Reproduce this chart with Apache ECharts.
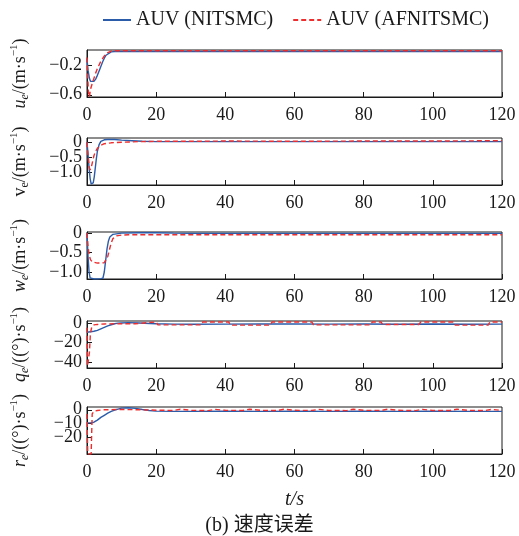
<!DOCTYPE html>
<html>
<head>
<meta charset="utf-8">
<script src="https://cdn.jsdelivr.net/npm/echarts@6/dist/echarts.min.js"></script>
<style>
  html, body { margin: 0; padding: 0; background: #fff; }
  #main { width: 519px; height: 536px; }
</style>
</head>
<body>
<div id="main"></div>
<script>
// u_e
var uTimeBlue = [0, 0.3, 0.7, 1.0, 1.5, 2.0, 2.5, 3.0, 3.5, 4.0, 4.5, 5.0, 5.5, 6.0, 7.0, 8.0, 10, 20, 40, 60, 80, 100, 120];
var uBlue = [-0.12, -0.27, -0.38, -0.42, -0.43, -0.42, -0.39, -0.34, -0.28, -0.22, -0.16, -0.11, -0.07, -0.045, -0.025, -0.02, -0.02, -0.02, -0.02, -0.02, -0.02, -0.02, -0.02];
var uTimeRed = [0, 0.2, 0.4, 0.6, 0.8, 1.0, 1.5, 2.0, 2.5, 3.0, 3.5, 4.0, 5.0, 6.0, 7.0, 8.0, 10, 20, 40, 60, 80, 100, 120];
var uRed = [-0.1, -0.35, -0.55, -0.63, -0.6, -0.53, -0.45, -0.38, -0.31, -0.25, -0.2, -0.15, -0.08, -0.035, -0.015, -0.01, -0.01, -0.01, -0.01, -0.01, -0.01, -0.01, -0.01];

// v_e
var vTimeBlue = [0, 0.3, 0.6, 0.9, 1.2, 1.5, 1.8, 2.1, 2.4, 2.7, 3.0, 3.5, 4.0, 5, 6, 8, 10, 13, 16, 20, 30, 40, 60, 80, 100, 120];
var vBlue = [0, -0.4, -0.85, -1.2, -1.38, -1.42, -1.35, -1.15, -0.85, -0.55, -0.3, -0.08, 0.03, 0.08, 0.09, 0.09, 0.07, 0.05, 0.03, 0.02, 0.02, 0.02, 0.02, 0.02, 0.02, 0.02];
var vTimeRed = [0, 0.3, 0.6, 0.9, 1.2, 1.5, 2.0, 2.5, 3.0, 4.0, 5.0, 7.0, 10, 15, 20, 30, 40, 60, 80, 100, 120];
var vRed = [0, -0.45, -0.8, -0.92, -0.85, -0.7, -0.45, -0.3, -0.2, -0.1, -0.05, -0.02, 0.0, 0.02, 0.03, 0.03, 0.04, 0.03, 0.04, 0.04, 0.05];

// w_e
var wTimeBlue = [0, 0.3, 0.6, 0.9, 1.2, 2, 3, 4, 4.6, 5.0, 5.4, 5.8, 6.2, 6.6, 7.0, 7.5, 8, 10, 15, 20, 25, 30, 40, 60, 80, 100, 120];
var wBlue = [0, -0.6, -1.0, -1.15, -1.18, -1.18, -1.18, -1.17, -1.16, -1.0, -0.7, -0.4, -0.2, -0.1, -0.05, -0.03, -0.02, 0.0, 0.01, 0.01, 0.0, -0.005, -0.005, -0.005, -0.005, -0.005, -0.005];
var wTimeRed = [0, 0.3, 0.6, 1, 1.5, 2, 3, 4, 5, 5.5, 6, 6.5, 7, 7.5, 8.5, 10, 12, 20, 40, 60, 80, 100, 120];
var wRed = [0, -0.35, -0.55, -0.68, -0.74, -0.76, -0.77, -0.77, -0.76, -0.72, -0.6, -0.42, -0.25, -0.14, -0.07, -0.05, -0.04, -0.04, -0.04, -0.04, -0.04, -0.04, -0.04];

// q_e
var qTimeBlue = [0, 1, 2, 3, 4, 5, 6, 7, 8, 9, 10, 12, 15, 20, 25, 30, 40, 50, 60, 70, 80, 90, 100, 110, 120];
var qBlue = [-9.5, -9, -8.5, -7.5, -6, -4.5, -3, -1.8, -0.8, -0.2, 0, 0.3, 0, -0.8, -1.2, -1.3, -1.2, -1.0, -1.0, -1.2, -1.0, -1.3, -1.1, -1.3, -1.2];
var qTimeRed = [0, 0.15, 0.4, 0.7, 1.0, 1.4, 2, 3, 5, 10, 14, 14.5, 20, 20.5, 33, 33.5, 41, 41.5, 53, 53.5, 65, 65.5, 82, 82.5, 85, 85.5, 96, 96.5, 106, 106.5, 116, 116.5, 120];
var qRed = [-5, -44, -46, -30, -10, -4, -2, -1.5, -1, -0.8, -0.8, 1, 1, -2, -2, 1, 1, -2.2, -2.2, 1, 1, -2, -2, 1, 1, -1.5, -1.5, 1, 1, -2.2, -2.2, 1, 1];

// r_e
var rTimeBlue = [0, 1, 2, 3, 4, 5, 6, 7, 8, 9, 10, 12, 14, 16, 18, 20, 25, 30, 40, 50, 60, 70, 80, 90, 100, 110, 120];
var rBlue = [-9.5, -9.5, -9, -7.5, -5.5, -4, -2.5, -1.2, -0.2, 0.5, 1.2, 1.5, 1, 0.2, -0.5, -1, -1.2, -1.2, -1.1, -1.2, -1.1, -1.2, -1.1, -1.2, -1.1, -1.2, -1.2];
var rTimeRed = [0, 0.2, 0.4, 1.2, 1.5, 2, 3, 5, 10, 15, 20, 25, 27, 30, 35, 37, 40, 45, 47, 50, 55, 57, 60, 65, 67, 70, 75, 77, 80, 85, 87, 90, 95, 97, 100, 105, 107, 110, 115, 117, 120];
var rRed = [-3, -30, -32, -32, -3, -1, -0.5, 0, 0.2, 0, -0.3, -0.5, 0.4, -0.4, -0.6, 0.3, -0.4, -0.5, 0.4, -0.4, -0.6, 0.4, -0.4, -0.5, 0.3, -0.5, -0.6, 0.4, -0.4, -0.5, 0.4, -0.4, -0.6, 0.3, -0.5, -0.5, 0.4, -0.4, -0.6, 0.3, -0.5];

var yTicks = [[-0.6, -0.2], [-1.0, -0.5, 0], [-1.0, -0.5, 0], [-40, -20, 0], [-20, -10, 0]];
var yRange = [[-0.63, 0], [-1.42, 0.14], [-1.18, 0.03], [-46, 2], [-32, 2]];
var yDigits = [1, 1, 1, 0, 0];
var yNames = [
  '{i|u}{s|e}{n|/(m·s}{p|−1}{n|)}',
  '{n|v}{t|e}{n|/(m·s}{p|−1}{n|)}',
  '{i|w}{s|e}{n|/(m·s}{p|−1}{n|)}',
  '{i|q}{s|e}{n|/((°)·s}{p|−1}{n|)}',
  '{i|r}{s|e}{n|/((°)·s}{p|−1}{n|)}'
];
var gridTops = [50, 138, 232, 321, 407];

var BLUE = '#2a5caa';
var RED = '#ee2e2e';
var SERIF = 'Liberation Serif, Noto Sans CJK SC, serif';
var AXIS = '#1a1a1a';

function pairs(t, v) {
  return t.map(function (x, i) { return [x, v[i]]; });
}

var blueData = [pairs(uTimeBlue, uBlue), pairs(vTimeBlue, vBlue), pairs(wTimeBlue, wBlue), pairs(qTimeBlue, qBlue), pairs(rTimeBlue, rBlue)];
var redData = [pairs(uTimeRed, uRed), pairs(vTimeRed, vRed), pairs(wTimeRed, wRed), pairs(qTimeRed, qRed), pairs(rTimeRed, rRed)];

var nameRich = {
  n: { fontFamily: SERIF, fontSize: 18, lineHeight: 22, verticalAlign: 'middle', color: AXIS },
  i: { fontFamily: SERIF, fontSize: 18, fontStyle: 'italic', lineHeight: 22, verticalAlign: 'middle', color: AXIS },
  s: { fontFamily: SERIF, fontSize: 12, fontStyle: 'italic', lineHeight: 12, verticalAlign: 'bottom', color: AXIS },
  t: { fontFamily: SERIF, fontSize: 12, lineHeight: 12, verticalAlign: 'bottom', color: AXIS },
  p: { fontFamily: SERIF, fontSize: 11, lineHeight: 11, verticalAlign: 'top', color: AXIS }
};

function makeFormatter(d) {
  return function (v) {
    if (v === 0) return '0';
    return v.toFixed(d).replace('-', '−');
  };
}

var grids = [], xAxes = [], yAxes = [], series = [];
for (var k = 0; k < 5; k++) {
  grids.push({
    left: 87, right: 17, top: gridTops[k], height: 47,
    show: true, borderColor: AXIS, borderWidth: 1, backgroundColor: 'transparent'
  });
  xAxes.push({
    gridIndex: k, type: 'value', min: 0, max: 120, interval: 20,
    axisLine: { show: true, onZero: false, lineStyle: { color: AXIS, width: 1 } },
    axisTick: { show: true, inside: true, length: 5, lineStyle: { color: AXIS } },
    axisLabel: { fontFamily: SERIF, fontSize: 18, color: AXIS, margin: 9 },
    splitLine: { show: false },
    name: k === 4 ? 't/s' : '',
    nameLocation: 'middle', nameGap: 36,
    nameTextStyle: { fontFamily: SERIF, fontSize: 20, fontStyle: 'italic', color: AXIS }
  });
  // labels split over two overlaid axes so tight labels are not dropped
  var even = yTicks[k].filter(function (v, i) { return i % 2 === 0; });
  var odd = yTicks[k].filter(function (v, i) { return i % 2 === 1; });
  var groups = [even, odd];
  for (var g = 0; g < 2; g++) {
    yAxes.push({
      gridIndex: k, type: 'value', position: 'left', offset: 0,
      min: yRange[k][0], max: yRange[k][1],
      axisLine: { show: g === 0, onZero: false, lineStyle: { color: AXIS, width: 1 } },
      axisTick: { show: true, inside: true, length: 5, customValues: groups[g], lineStyle: { color: AXIS } },
      axisLabel: {
        fontFamily: SERIF, fontSize: 18, color: AXIS, margin: 5,
        showMinLabel: true, showMaxLabel: true,
        customValues: groups[g],
        formatter: makeFormatter(yDigits[k])
      },
      splitLine: { show: false },
      name: g === 0 ? yNames[k] : '',
      nameLocation: 'middle', nameRotate: 90, nameGap: 56,
      nameTextStyle: { rich: nameRich }
    });
  }
  series.push({
    name: 'AUV (NITSMC)', type: 'line', xAxisIndex: k, yAxisIndex: 2 * k,
    data: blueData[k], symbol: 'none', color: BLUE,
    lineStyle: { color: BLUE, width: 1.4 }, animation: false
  });
  series.push({
    name: 'AUV (AFNITSMC)', type: 'line', xAxisIndex: k, yAxisIndex: 2 * k,
    data: redData[k], symbol: 'none', color: RED,
    lineStyle: { color: RED, width: 1.4, type: [5, 3] }, animation: false
  });
}

var chart = echarts.init(document.getElementById('main'), null, { renderer: 'canvas' });
chart.setOption({
  backgroundColor: '#fff',
  animation: false,
  legend: {
    left: 97, top: 5, itemWidth: 28, itemHeight: 14, itemGap: 19,
    data: ['AUV (NITSMC)', 'AUV (AFNITSMC)'],
    itemStyle: { opacity: 0 },
    textStyle: { fontFamily: SERIF, fontSize: 20, color: AXIS }
  },
  graphic: [{
    type: 'text', left: 'center', top: 516,
    style: { text: '(b) 速度误差', font: '20px Liberation Serif, Noto Sans CJK SC', fill: AXIS, x: 37 }
  }],
  grid: grids,
  xAxis: xAxes,
  yAxis: yAxes,
  series: series
});
</script>
</body>
</html>
